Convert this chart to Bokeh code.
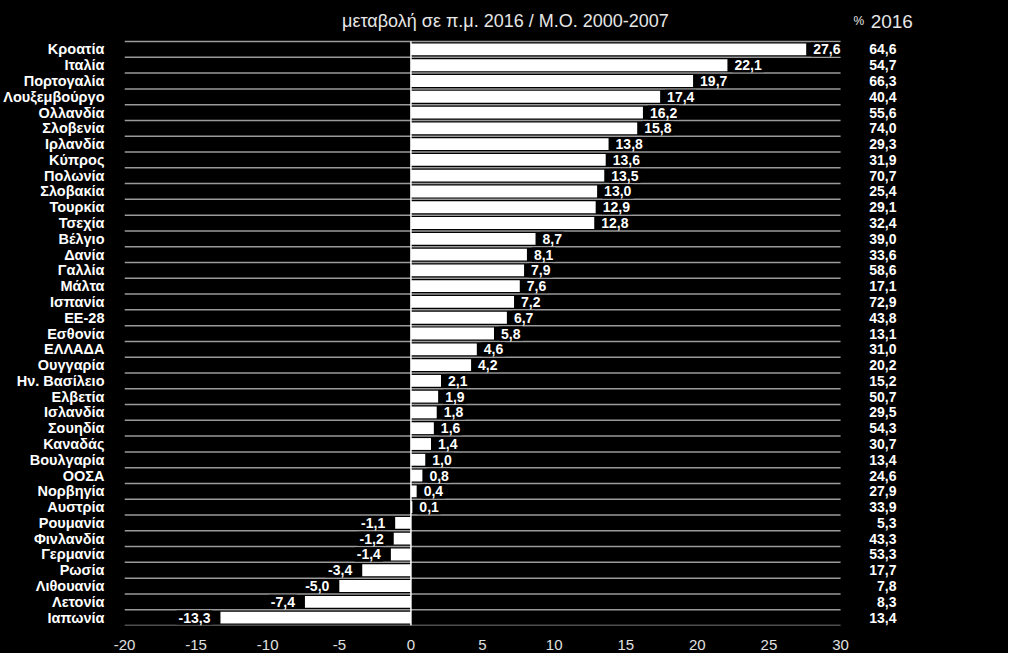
from bokeh.core.properties import value
from bokeh.embed import file_html
from bokeh.models import ColumnDataSource, FixedTicker, Range1d
from bokeh.plotting import figure
from bokeh.resources import INLINE

# data, top to bottom
countries = ["Κροατία", "Ιταλία", "Πορτογαλία", "Λουξεμβούργο", "Ολλανδία", "Σλοβενία",
             "Ιρλανδία", "Κύπρος", "Πολωνία", "Σλοβακία", "Τουρκία", "Τσεχία", "Βέλγιο",
             "Δανία", "Γαλλία", "Μάλτα", "Ισπανία", "ΕΕ-28", "Εσθονία", "ΕΛΛΑΔΑ",
             "Ουγγαρία", "Ην. Βασίλειο", "Ελβετία", "Ισλανδία", "Σουηδία", "Καναδάς",
             "Βουλγαρία", "ΟΟΣΑ", "Νορβηγία", "Αυστρία", "Ρουμανία", "Φινλανδία",
             "Γερμανία", "Ρωσία", "Λιθουανία", "Λετονία", "Ιαπωνία"]
change_vs_avg = [27.6, 22.1, 19.7, 17.4, 16.2, 15.8, 13.8, 13.6, 13.5, 13.0, 12.9, 12.8,
                 8.7, 8.1, 7.9, 7.6, 7.2, 6.7, 5.8, 4.6, 4.2, 2.1, 1.9, 1.8, 1.6, 1.4,
                 1.0, 0.8, 0.4, 0.1, -1.1, -1.2, -1.4, -3.4, -5.0, -7.4, -13.3]
pct_2016 = [64.6, 54.7, 66.3, 40.4, 55.6, 74.0, 29.3, 31.9, 70.7, 25.4, 29.1, 32.4,
            39.0, 33.6, 58.6, 17.1, 72.9, 43.8, 13.1, 31.0, 20.2, 15.2, 50.7, 29.5,
            54.3, 30.7, 13.4, 24.6, 27.9, 33.9, 5.3, 43.3, 53.3, 17.7, 7.8, 8.3, 13.4]
x_ticks = [-20, -15, -10, -5, 0, 5, 10, 15, 20, 25, 30]

title_text = "μεταβολή σε π.μ. 2016 / Μ.Ο. 2000-2007"
FONT = "Liberation Sans"


def fmt(v):
    return f"{v:.1f}".replace(".", ",")


n = len(countries)
rows = list(range(n))

source = ColumnDataSource(data=dict(
    y=rows,
    change=change_vs_avg,
    label=[fmt(v) for v in change_vs_avg],
    align=["left" if v >= 0 else "right" for v in change_vs_avg],
    xoff=[5 if v >= 0 else -8 for v in change_vs_avg],
    share=[fmt(v) for v in pct_2016],
    share_x=[33.9] * n,
))

p = figure(
    width=1008, height=653,
    x_range=Range1d(-20, 36),
    y_range=Range1d(n - 0.5, -3.1),
    output_backend="svg",
    toolbar_location=None,
    tools="",
    min_border_left=122, min_border_right=82,
    min_border_top=0, min_border_bottom=28,
)
p.styles = {"background-color": "black"}
p.background_fill_color = "black"
p.border_fill_color = "black"
p.outline_line_color = None
p.xgrid.grid_line_color = None
p.ygrid.grid_line_color = None

# row separators
bounds = [k - 0.5 for k in range(n + 1)]
p.segment(x0=x_ticks[0], x1=x_ticks[-1], y0=bounds, y1=bounds,
          line_color="#9a9a9a", line_width=1.5)

p.hbar(y="y", left=0, right="change", height=0.75, source=source,
       fill_color="white", line_color=None)
p.segment(x0=0, x1=0, y0=-0.5, y1=n - 0.5, line_color="white", line_width=1.5)

p.text(x="change", y="y", text="label", source=source,
       text_align="align", x_offset="xoff", text_baseline="middle",
       text_color="white", text_font=value(FONT), text_font_style="bold",
       text_font_size="14px", background_fill_color="black", padding=2)

p.text(x="share_x", y="y", text="share", source=source,
       text_align="right", text_baseline="middle",
       text_color="white", text_font=value(FONT), text_font_style="bold",
       text_font_size="14px")

# headings
p.text(x=[6.6], y=[-1.77], text=[title_text], text_align="center",
       text_baseline="alphabetic", text_color="#e6e6e6",
       text_font=value(FONT), text_font_size="18px")
p.text(x=[30.9], y=[-1.77], text=["%"], text_align="left",
       text_baseline="alphabetic", text_color="#e6e6e6",
       text_font=value(FONT), text_font_size="12px")
p.text(x=[32.1], y=[-1.77], text=["2016"], text_align="left",
       text_baseline="alphabetic", text_color="#e6e6e6",
       text_font=value(FONT), text_font_size="19px")

# axes
p.xaxis.ticker = FixedTicker(ticks=x_ticks)
p.xaxis.major_label_overrides = {t: str(t) for t in x_ticks}
p.xaxis.axis_line_color = None
p.xaxis.major_tick_line_color = None
p.xaxis.minor_tick_line_color = None
p.xaxis.major_label_standoff = 8
p.xaxis.major_label_text_color = "#e0e0e0"
p.xaxis.major_label_text_font = FONT
p.xaxis.major_label_text_font_size = "15px"

p.yaxis.ticker = FixedTicker(ticks=rows)
p.yaxis.major_label_overrides = {i: c for i, c in zip(rows, countries)}
p.yaxis.axis_line_color = None
p.yaxis.major_tick_line_color = None
p.yaxis.minor_tick_line_color = None
p.yaxis.major_label_standoff = 14
p.yaxis.major_label_text_color = "white"
p.yaxis.major_label_text_font = FONT
p.yaxis.major_label_text_font_style = "bold"
p.yaxis.major_label_text_font_size = "14.5px"

open("out.html", "w").write(file_html(p, INLINE))
